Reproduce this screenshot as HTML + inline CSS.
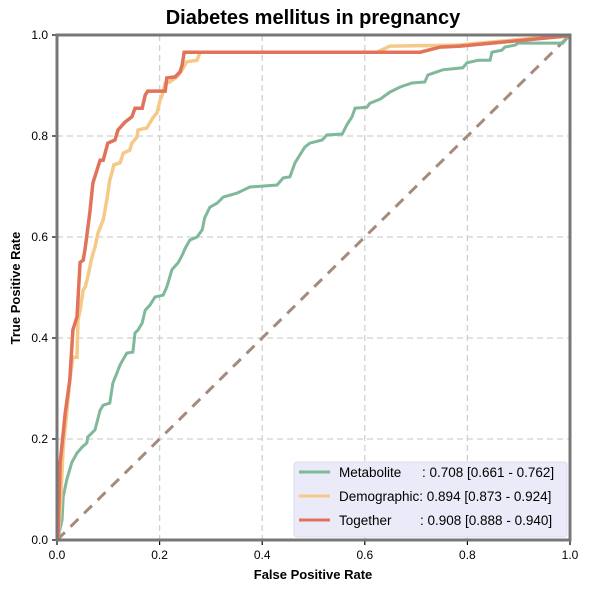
<!DOCTYPE html>
<html><head><meta charset="utf-8"><style>
body{margin:0;background:#fff;}
svg{display:block;font-family:"Liberation Sans",Arial,sans-serif;}
</style></head><body>
<svg id="chart" width="591" height="592" viewBox="0 0 591 592" xmlns="http://www.w3.org/2000/svg">
<text x="313" y="24" text-anchor="middle" font-size="20" font-weight="bold">Diabetes mellitus in pregnancy</text>
<g id="grid"></g>
<g id="ticks"></g>
<line x1="57" y1="540" x2="570" y2="35" stroke="#a68a7e" stroke-width="3" stroke-dasharray="11,8"/>
<g id="series"></g>
<rect x="57" y="35" width="513" height="505" fill="none" stroke="#777" stroke-width="3"/>
<text x="313" y="579" text-anchor="middle" font-size="13" font-weight="bold">False Positive Rate</text>
<text transform="translate(20,288) rotate(-90)" text-anchor="middle" font-size="13" font-weight="bold">True Positive Rate</text>
<g>
<rect x="294" y="462" width="273" height="75" rx="3" fill="#eaeaf8" stroke="#dcdcf0"/>
<g>
<line x1="299" y1="472" x2="330" y2="472" stroke="#7fb89a" stroke-width="3"/>
<text x="339" y="477" font-size="13.5">Metabolite</text><text x="422" y="477" font-size="13.5">: 0.708 [0.661 - 0.762]</text></g>
<g>
<line x1="299" y1="496" x2="330" y2="496" stroke="#f5c987" stroke-width="3"/>
<text x="339" y="501" font-size="13.5">Demographic: 0.894 [0.873 - 0.924]</text></g>
<g>
<line x1="299" y1="520" x2="330" y2="520" stroke="#e0735a" stroke-width="3"/>
<text x="339" y="525" font-size="13.5">Together</text><text x="420" y="525" font-size="13.5">: 0.908 [0.888 - 0.940]</text></g>
</g>
</svg>
<script>
const tickValues=[0,0.2,0.4,0.6,0.8,1];
const tickLabels=["0.0","0.2","0.4","0.6","0.8","1.0"];
const metaboliteFpr=[0,.002,.010,.012,.019,.029,.039,.049,.058,.060,.074,.084,.090,.103,.109,.117,.123,.136,.148,.152,.158,.166,.172,.181,.191,.207,.214,.224,.236,.244,.250,.259,.273,.283,.288,.298,.312,.324,.351,.376,.429,.441,.454,.464,.483,.493,.517,.526,.556,.565,.575,.581,.604,.610,.630,.649,.669,.692,.717,.723,.752,.791,.799,.821,.844,.848,.867,.873,.893,.899,.986,.996,1];
const metaboliteTpr=[0,.004,.040,.085,.119,.154,.172,.184,.192,.204,.218,.257,.267,.271,.311,.331,.347,.370,.372,.410,.416,.430,.455,.465,.481,.485,.501,.535,.549,.564,.578,.594,.600,.614,.638,.659,.667,.679,.687,.699,.703,.717,.719,.747,.778,.786,.792,.802,.804,.822,.838,.855,.857,.865,.873,.887,.897,.905,.907,.921,.931,.935,.945,.950,.950,.966,.970,.976,.980,.984,.984,.996,1];
const demographicFpr=[0,.002,.006,.012,.019,.025,.031,.039,.041,.045,.051,.055,.060,.068,.074,.080,.090,.097,.103,.107,.111,.123,.129,.142,.146,.156,.158,.175,.181,.187,.195,.201,.205,.211,.220,.234,.244,.253,.273,.279,.624,.649,.78,1];
const demographicTpr=[0,.004,.053,.184,.251,.317,.362,.362,.436,.455,.495,.501,.521,.560,.580,.608,.634,.673,.713,.727,.743,.747,.766,.772,.786,.798,.812,.816,.826,.836,.846,.871,.881,.905,.907,.917,.931,.947,.950,.966,.966,.978,.980,1];
const togetherFpr=[0,.002,.006,.012,.016,.025,.031,.039,.045,.051,.055,.064,.070,.084,.090,.099,.113,.119,.133,.146,.152,.166,.172,.177,.211,.214,.230,.240,.244,.248,.708,.747,.786,.994,1];
const togetherTpr=[0,.004,.152,.212,.251,.317,.416,.442,.550,.554,.578,.648,.707,.752,.752,.786,.792,.812,.828,.838,.855,.855,.881,.889,.889,.915,.917,.927,.941,.966,.966,.976,.978,.998,1];
const X0=57,X1=570,Y0=540,Y1=35;
const sx=v=>X0+v*(X1-X0), sy=v=>Y0-v*(Y0-Y1);
const NS="http://www.w3.org/2000/svg";
const grid=document.getElementById('grid'),ticks=document.getElementById('ticks'),series=document.getElementById('series');
function mk(t,a,p){const e=document.createElementNS(NS,t);for(const k in a)e.setAttribute(k,a[k]);p.appendChild(e);return e;}
tickValues.forEach((v,i)=>{
  if(v>0&&v<1){
    const gx=mk('line',{x1:sx(v),x2:sx(v),y1:Y1,y2:Y0,stroke:'#d0d0d0','stroke-width':1.3,'stroke-dasharray':'6,4'},grid);
    
    
    const gy=mk('line',{x1:X0,x2:X1,y1:sy(v),y2:sy(v),stroke:'#d0d0d0','stroke-width':1.3,'stroke-dasharray':'6,4'},grid);
    
    
  }
  mk('line',{x1:sx(v),x2:sx(v),y1:Y0,y2:Y0+5,stroke:'#000','stroke-width':1.2},ticks);
  const tx=mk('text',{x:sx(v),y:Y0+19,'text-anchor':'middle','font-size':12},ticks);
  tx.textContent=tickLabels[i];
  
  
  mk('line',{x1:X0-5,x2:X0,y1:sy(v),y2:sy(v),stroke:'#000','stroke-width':1.2},ticks);
  const ty=mk('text',{x:X0-9,y:sy(v)+4,'text-anchor':'end','font-size':12},ticks);
  ty.textContent=tickLabels[i];
  
  
});
function draw(fx,ty,color,w,name){
  const d=fx.map((f,i)=>(i?'L':'M')+sx(f).toFixed(1)+' '+sy(ty[i]).toFixed(1)).join(' ');
  const p=mk('path',{d:d,fill:'none',stroke:color,'stroke-width':w,'stroke-linejoin':'miter'},series);
  
  
}
draw(metaboliteFpr,metaboliteTpr,'#7fb89a',3,'metabolite-roc-line');
draw(demographicFpr,demographicTpr,'#f5c987',3.5,'demographic-roc-line');
draw(togetherFpr,togetherTpr,'#e0735a',3.5,'together-roc-line');
</script>
</body></html>
